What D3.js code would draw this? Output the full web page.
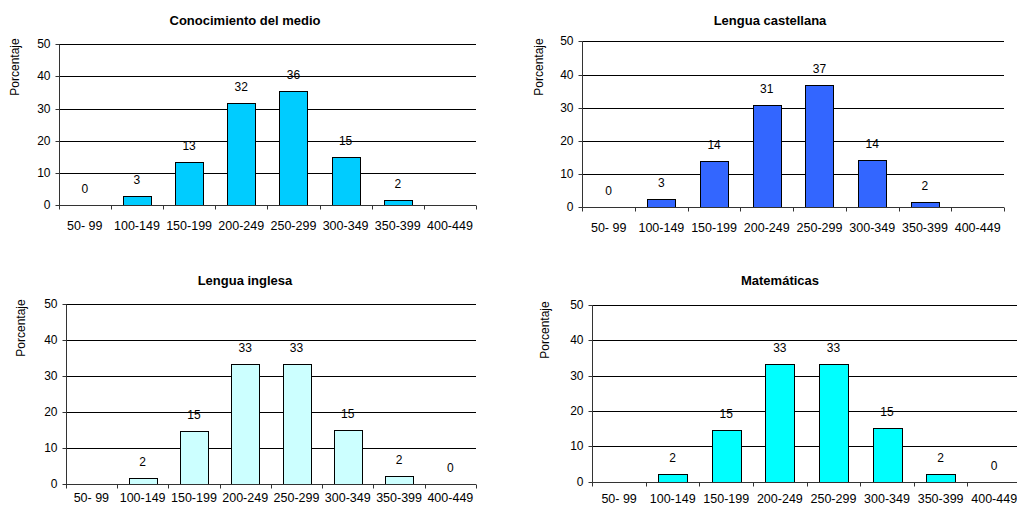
<!DOCTYPE html>
<html>
<head>
<meta charset="utf-8">
<script src="https://cdn.jsdelivr.net/npm/d3@7/dist/d3.min.js"></script>
<style>
  html, body { margin: 0; padding: 0; background: #fff; }
  svg { display: block; font-family: "Liberation Sans", Arial, sans-serif; }
</style>
</head>
<body>
<svg id="chart" width="1017" height="507"></svg>
<script>
// ---- Data ----
const categories = ["50- 99", "100-149", "150-199", "200-249", "250-299", "300-349", "350-399", "400-449"];
const yTicks = [0, 10, 20, 30, 40, 50];
const titles = ["Conocimiento del medio", "Lengua castellana", "Lengua inglesa", "Matemáticas"];
const conocimiento = [0, 2.9, 13.3, 31.8, 35.6, 14.9, 1.6, null];
const castellana   = [0, 2.5, 14.0, 30.7, 36.7, 14.2, 1.7, null];
const inglesa      = [null, 1.8, 14.8, 33.3, 33.3, 15.1, 2.1, 0];
const matematicas  = [null, 2.1, 14.5, 33.2, 33.2, 15.2, 2.1, 0];
const yLabel = "Porcentaje";

// ---- Layout (positions / styles only) ----
const panels = [
  { values: conocimiento, fill: "#00CCFF", x0: 58.7, x1: 476, yTop: 44.3, y0: 205,
    tx: 245, ty: 25, lx: 15, ly: 67, xlab: 229.5 },
  { values: castellana, fill: "#3366FF", x0: 582.3, x1: 1004, yTop: 41.3, y0: 207.3,
    tx: 770, ty: 25, lx: 539.3, ly: 67, xlab: 231.5 },
  { values: inglesa, fill: "#CCFFFF", x0: 65.7, x1: 476, yTop: 304.3, y0: 484,
    tx: 245, ty: 285, lx: 20.7, ly: 328, xlab: 502 },
  { values: matematicas, fill: "#00FFFF", x0: 592.3, x1: 1021, yTop: 305, y0: 481.7,
    tx: 780, ty: 285, lx: 545, ly: 330, xlab: 503.3 }
];
const FONT = "'Liberation Sans', Arial, sans-serif";
const FS = 12;

const svg = d3.select("#chart");

panels.forEach((p, pi) => {
  const g = svg.append("g");
  const x = d3.scaleBand().domain(categories).range([p.x0, p.x1])
    .paddingInner(0.46).paddingOuter(0.23);
  const xb = d3.scaleLinear().domain([0, categories.length]).range([p.x0, p.x1]);
  const y = d3.scaleLinear().domain([0, 50]).range([p.y0, p.yTop]);

  // gridlines
  g.append("g").selectAll("line").data(yTicks.filter(t => t > 0)).join("line")
    .attr("x1", p.x0).attr("x2", p.x1)
    .attr("y1", d => Math.round(y(d)) + 0.5).attr("y2", d => Math.round(y(d)) + 0.5)
    .attr("stroke", "#000").attr("stroke-width", 1);

  // y axis
  const ya = g.append("g").attr("transform", `translate(${Math.round(p.x0) + 0.5},0)`)
    .call(d3.axisLeft(y).tickValues(yTicks).tickSize(4).tickPadding(5).tickFormat(d3.format("d")));
  ya.select(".domain").attr("stroke", "#333").attr("d", `M0,${Math.round(p.y0)+0.5}V${Math.round(p.yTop)+0.5}`);
  ya.selectAll(".tick line").attr("stroke", "#333");
  ya.selectAll(".tick").attr("transform", d => `translate(0,${Math.round(y(d)) + 0.5})`);
  ya.selectAll("text").attr("font-size", FS).attr("fill", "#000").attr("font-family", FONT);

  // bars
  g.append("g").selectAll("rect").data(categories.map((c, i) => ({ c, v: p.values[i] })).filter(d => d.v !== null))
    .join("rect")
    .attr("x", d => Math.round(x(d.c)) + 0.5)
    .attr("width", Math.round(x.bandwidth()))
    .attr("y", d => Math.round(y(d.v)) + 0.5)
    .attr("height", d => Math.max(0, Math.round(p.y0) - Math.round(y(d.v))))
    .attr("fill", p.fill).attr("stroke", "#000").attr("stroke-width", 1)
    .attr("display", d => d.v > 0 ? null : "none");

  // x axis line & boundary ticks
  const y0r = Math.round(p.y0) + 0.5;
  g.append("line").attr("x1", p.x0).attr("x2", p.x1).attr("y1", y0r).attr("y2", y0r)
    .attr("stroke", "#333");
  g.append("g").selectAll("line").data(d3.range(categories.length + 1)).join("line")
    .attr("x1", d => Math.round(xb(d)) + 0.5).attr("x2", d => Math.round(xb(d)) + 0.5)
    .attr("y1", y0r).attr("y2", y0r + 4).attr("stroke", "#333");

  // x tick labels
  const xa = g.append("g").attr("transform", `translate(0,${p.xlab})`)
    .call(d3.axisBottom(x).tickSize(0).tickPadding(0));
  xa.select(".domain").remove();
  xa.selectAll("text").attr("dy", null).attr("y", 0).attr("font-size", FS + 0.5).attr("fill", "#000")
    .attr("font-family", FONT);

  // value labels
  g.append("g").selectAll("text").data(categories.map((c, i) => ({ c, v: p.values[i] })).filter(d => d.v !== null))
    .join("text")
    .attr("x", d => x(d.c) + x.bandwidth() / 2)
    .attr("y", d => y(d.v) - 12)
    .attr("text-anchor", "middle").attr("font-size", FS).attr("fill", "#000")
    .text(d => Math.round(d.v));

  // title
  g.append("text").attr("x", p.tx).attr("y", p.ty).attr("text-anchor", "middle")
    .attr("font-size", 13).attr("font-weight", "bold").attr("fill", "#000").text(titles[pi]);

  // y label
  g.append("text").attr("transform", `translate(${p.lx + 4},${p.ly}) rotate(-90)`)
    .attr("text-anchor", "middle").attr("font-size", FS).attr("fill", "#000").text(yLabel);
});
</script>
</body>
</html>
